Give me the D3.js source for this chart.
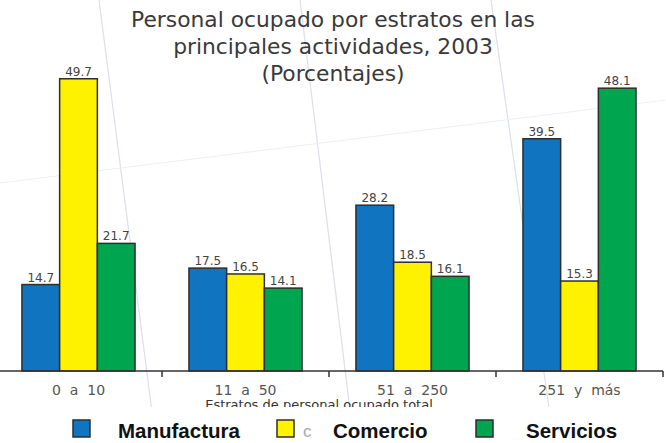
<!DOCTYPE html>
<html>
<head>
<meta charset="utf-8">
<script src="https://cdn.jsdelivr.net/npm/d3@7"></script>
<style>
  html, body { margin: 0; padding: 0; background: #fff; }
  svg { display: block; }
</style>
</head>
<body>
<div id="chart"></div>
<script>
// data
var categories = ['0  a  10', '11  a  50', '51  a  250', '251  y  más'];
var series = ['Manufactura', 'Comercio', 'Servicios'];
var manufactura = [14.7, 17.5, 28.2, 39.5];
var comercio = [49.7, 16.5, 18.5, 15.3];
var servicios = [21.7, 14.1, 16.1, 48.1];
var titleLines = ['Personal ocupado por estratos en las', 'principales actividades, 2003', '(Porcentajes)'];
var xTitle = 'Estratos de personal ocupado total';

var width = 666, height = 443;
var colors = { Manufactura: '#1174c0', Comercio: '#fff200', Servicios: '#00a550' };
var values = { Manufactura: manufactura, Comercio: comercio, Servicios: servicios };

var svg = d3.select('#chart').append('svg')
	.attr('width', width)
	.attr('height', height);

// faint scan lines of the original sheet
var faint = svg.append('g').attr('fill', 'none');
[[99, 0, 156, 443, '#dde0ec'], [300, 0, 354, 443, '#dde0ec'], [491, 0, 554, 443, '#dde0ec'], [0, 183, 666, 100, '#eef0f5']].forEach(function(l) {
	faint.append('line').attr('x1', l[0]).attr('y1', l[1]).attr('x2', l[2]).attr('y2', l[3])
		.attr('stroke', l[4]).attr('stroke-width', 1.2);
});

var baseY = 371;
var x0 = d3.scaleBand().domain(categories).range([-5, 663]).paddingInner(0).paddingOuter(0);
var x1 = d3.scaleBand().domain(series).range([0, x0.bandwidth()]).paddingInner(0).paddingOuter(0.715);
var y = d3.scaleLinear().domain([0, 50]).range([baseY, 77]);

// title
svg.append('g').selectAll('text')
	.data(titleLines)
	.enter().append('text')
		.attr('x', 333)
		.attr('y', function(d, i) { return 27 + i*27; })
		.attr('text-anchor', 'middle')
		.attr('font-family', 'DejaVu Sans, Verdana, sans-serif')
		.attr('font-size', 21.8)
		.attr('fill', '#3a3a3a')
		.text(function(d) { return d; });

// bars
var groups = svg.append('g').selectAll('g')
	.data(categories)
	.enter().append('g')
		.attr('transform', function(d) { return 'translate(' + x0(d) + ',0)'; });

groups.selectAll('rect')
	.data(function(d, i) { return series.map(function(s) { return { s: s, v: values[s][i] }; }); })
	.enter().append('rect')
		.attr('x', function(d) { return x1(d.s); })
		.attr('y', function(d) { return y(d.v); })
		.attr('width', x1.bandwidth())
		.attr('height', function(d) { return baseY - y(d.v); })
		.attr('fill', function(d) { return colors[d.s]; })
		.attr('stroke', '#2e2e2e')
		.attr('stroke-width', 1.5);

groups.selectAll('text')
	.data(function(d, i) { return series.map(function(s) { return { s: s, v: values[s][i] }; }); })
	.enter().append('text')
		.attr('x', function(d) { return x1(d.s) + x1.bandwidth()/2; })
		.attr('y', function(d) { return y(d.v) - 3; })
		.attr('text-anchor', 'middle')
		.attr('font-family', 'DejaVu Sans, Verdana, sans-serif')
		.attr('font-size', 12)
		.attr('fill', '#444')
		.text(function(d) { return d.v.toFixed(1); });

// x axis: line, ticks between categories, labels
var axis = svg.append('g');
axis.append('line')
	.attr('x1', 0).attr('x2', x0.range()[1])
	.attr('y1', baseY).attr('y2', baseY)
	.attr('stroke', '#333').attr('stroke-width', 1.5);
axis.selectAll('line.tick')
	.data(categories)
	.enter().append('line')
		.attr('class', 'tick')
		.attr('x1', function(d) { return x0(d) + x0.bandwidth(); })
		.attr('x2', function(d) { return x0(d) + x0.bandwidth(); })
		.attr('y1', baseY).attr('y2', baseY + 6)
		.attr('stroke', '#333').attr('stroke-width', 1.5);
axis.selectAll('text')
	.data(categories)
	.enter().append('text')
		.attr('x', function(d) { return x0(d) + x0.bandwidth()/2; })
		.attr('y', 395)
		.attr('text-anchor', 'middle')
		.attr('font-family', 'DejaVu Sans, Verdana, sans-serif')
		.attr('font-size', 14)
		.attr('fill', '#555')
		.style('white-space', 'pre')
		.text(function(d) { return d; });

// axis title, partly hidden under the legend band
svg.append('text')
	.attr('x', 319)
	.attr('y', 409)
	.attr('text-anchor', 'middle')
	.attr('font-family', 'DejaVu Sans, Verdana, sans-serif')
	.attr('font-size', 13)
	.attr('fill', '#333')
	.text(xTitle);
svg.append('rect')
	.attr('x', 0).attr('y', 407)
	.attr('width', width).attr('height', height - 407)
	.attr('fill', '#fff');

// legend
var legendSwatchX = [73, 277, 476];
var legendTextX = [118, 333, 526];
var legend = svg.append('g');
series.forEach(function(s, i) {
	legend.append('rect')
		.attr('x', legendSwatchX[i]).attr('y', 420)
		.attr('width', 17).attr('height', 17)
		.attr('fill', colors[s])
		.attr('stroke', '#2e2e2e').attr('stroke-width', 1.5);
	legend.append('text')
		.attr('x', legendTextX[i]).attr('y', 438)
		.attr('font-family', 'Liberation Sans, Arial, sans-serif')
		.attr('font-weight', 'bold')
		.attr('font-size', 20.5)
		.attr('fill', '#111')
		.text(s);
});
legend.append('text')
	.attr('x', 303).attr('y', 437)
	.attr('font-family', 'Liberation Sans, Arial, sans-serif')
	.attr('font-size', 17)
	.attr('fill', '#aaa')
	.text('c');
</script>
</body>
</html>
